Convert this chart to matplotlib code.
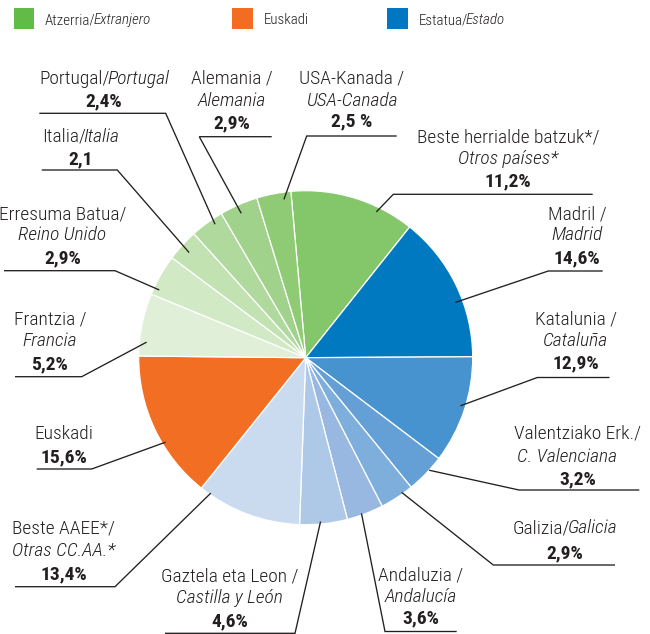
import matplotlib
matplotlib.use("Agg")
import matplotlib.pyplot as plt
from matplotlib import font_manager
from matplotlib.patches import Rectangle
import numpy as np

# ---------------- data ----------------
region_eu = ["Beste herrialde batzuk*", "Madril", "Katalunia", "Valentziako Erk.",
             "Galizia", "Andaluzia", "Gaztela eta Leon", "Beste AAEE*", "Euskadi",
             "Frantzia", "Erresuma Batua", "Italia", "Portugal", "Alemania", "USA-Kanada"]
region_es = ["Otros países*", "Madrid", "Cataluña", "C. Valenciana",
             "Galicia", "Andalucía", "Castilla y León", "Otras CC.AA.*", "",
             "Francia", "Reino Unido", "Italia", "Portugal", "Alemania", "USA-Canada"]
pct_labels = ["11,2%", "14,6%", "12,9%", "3,2%", "2,9%", "3,6%", "4,6%", "13,4%",
              "15,6%", "5,2%", "2,9%", "2,1", "2,4%", "2,9%", "2,5 %"]
# slice sizes as drawn in the reference (share of the full circle, %)
slice_share = [12.1, 14.2, 10.4, 3.8, 3.3, 3.55, 4.6, 10.15,
               14.4, 6.05, 4.0, 3.1, 3.25, 3.7, 3.3]
legend_names = [("Atzerria/", "Extranjero"), ("Euskadi", ""), ("Estatua/", "Estado")]

# ---------------- style ----------------
slice_colors = ["#84c66a", "#0079c1", "#4793cf", "#64a0d6", "#7eaedc", "#98b8e1",
                "#aec8e8", "#cbdbef", "#f26e22", "#e0efd8", "#d2e9c6", "#c2e2b2",
                "#b0d99e", "#a1d28c", "#8ecb74"]
legend_colors = ["#63bb47", "#f26c21", "#0077c0"]
TXT = "#231f20"

names = {f.name for f in font_manager.fontManager.ttflist}
base = "Roboto Condensed" if "Roboto Condensed" in names else "Liberation Sans"
FAM = [base, "DejaVu Sans"]
FS = 14
LW = 300  # light weight for the regular text

W, H = 650, 634
fig = plt.figure(figsize=(W / 100, H / 100), dpi=100)
ax = fig.add_axes([0, 0, 1, 1])

CX, CY, R = 305.7, H - 357.7, 167

wedges, _ = ax.pie(slice_share, colors=slice_colors, startangle=95.1,
                   counterclock=False, center=(CX, CY), radius=R,
                   wedgeprops=dict(edgecolor="white", linewidth=0.9))
ax.set_xlim(0, W)
ax.set_ylim(0, H)
ax.set_aspect("equal")
ax.axis("off")

# layout: text centre x, line centre ys (image px), underline y, x0, x1, elbow side,
# leader position within wedge (fraction) and radius fraction, separator / inline
layout = [
    dict(xc=508, ys=[136, 157, 180], uy=194.3, x0=393.3, x1=592.7, side="L", t=0.29, rf=0.97, sep="/"),
    dict(xc=577, ys=[213, 234, 257], uy=271, x0=548.3, x1=602.7, side="L", t=0.39, rf=0.955, sep=" /"),
    dict(xc=576, ys=[318.5, 339.5, 361.5], uy=377.5, x0=537.3, x1=609.5, side="L", t=0.53, rf=0.97, sep=" /"),
    dict(xc=578, ys=[431.7, 455, 478.3], uy=490, x0=519, x1=639.3, side="L", t=0.62, rf=1.0, sep="/", x2=567),
    dict(xc=565, ys=[526.7, 551.7], uy=565, x0=493.3, x1=615, side="L", t=0.69, rf=0.99, sep="/", inline=True),
    dict(xc=420.5, ys=[574, 596, 617.3], uy=631.5, x0=385, x1=456.7, side="L", t=0.41, rf=0.99, sep=" /"),
    dict(xc=229.5, ys=[575, 596.7, 620], uy=633.3, x0=165, x1=295, side="R", t=0.44, rf=0.985, sep=" /"),
    dict(xc=63.5, ys=[527.3, 550, 572.7], uy=586.7, x0=15, x1=115, side="R", t=0.10, rf=0.99, sep="/"),
    dict(xc=63.5, ys=[432.3, 456], uy=469, x0=36.7, x1=91.7, side="R", t=0.61, rf=0.98, sep=""),
    dict(xc=50, ys=[318.3, 339.3, 363.3], uy=376.7, x0=15, x1=81.7, side="R", t=0.77, rf=0.957, sep=" /"),
    dict(xc=62.5, ys=[212.7, 233.3, 257.3], uy=270.7, x0=4, x1=115, side="R", t=0.83, rf=0.966, sep="/"),
    dict(xc=80.7, ys=[135, 158.3], uy=170, x0=41.7, x1=117.3, side="R", t=0.53, rf=0.94, sep="/", inline=True),
    dict(xc=104, ys=[77, 100], uy=113.3, x0=39.3, x1=165.7, side="R", t=0.33, rf=0.966, sep="/", inline=True),
    dict(xc=232, ys=[77, 99, 121.7], uy=136.7, x0=199.3, x1=271.7, side="L", t=0.53, rf=0.947, sep=" /"),
    dict(xc=352, ys=[77.3, 99.3, 120], uy=136, x0=306.7, x1=396.7, side="L", t=0.23, rf=0.957, sep=" /"),
]

fig.canvas.draw()
renderer = fig.canvas.get_renderer()
BASE_OFF = 6.5  # line centre -> baseline, px
KERN = 2.5      # tighten the join between roman "/" and the italic word, px


def Y(y):
    return H - y


def put(x, y, s, ha="center", style="normal", weight=LW, size=FS):
    return ax.text(x, Y(y + BASE_OFF), s, ha=ha, va="baseline", family=FAM,
                   fontsize=size, style=style, weight=weight, color=TXT)


def put_mixed(xc, y, parts, size=FS, ha="center"):
    widths = []
    for s, st in parts:
        t = ax.text(0, 0, s, family=FAM, fontsize=size, style=st, weight=LW)
        bb = t.get_window_extent(renderer=renderer)
        widths.append(bb.width)
        t.remove()
    total = sum(widths) - KERN * (len([p for p in parts if p[0]]) - 1)
    x = xc - total / 2 if ha == "center" else xc
    for (s, st), w in zip(parts, widths):
        if not s:
            continue
        put(x, y, s, ha="left", style=st, size=size)
        x += w - KERN


for i, L in enumerate(layout):
    eu, es, pct = region_eu[i], region_es[i], pct_labels[i]
    ys = L["ys"]
    if L.get("inline"):
        put_mixed(L["xc"], ys[0], [(eu + L["sep"], "normal"), (es, "italic")])
        put(L["xc"], ys[1], pct, weight="bold")
    elif es == "":
        put(L["xc"], ys[0], eu)
        put(L["xc"], ys[1], pct, weight="bold")
    else:
        put(L["xc"], ys[0], eu + L["sep"])
        put(L.get("x2", L["xc"]), ys[1], es, style="italic")
        put(L["xc"], ys[2], pct, weight="bold")
    # leader line
    w = wedges[i]
    ang = np.deg2rad(w.theta1 + L["t"] * (w.theta2 - w.theta1))
    ex = CX + L["rf"] * R * np.cos(ang)
    ey = CY + L["rf"] * R * np.sin(ang)
    if L["side"] == "L":
        xs = [ex, L["x0"], L["x1"]]
    else:
        xs = [ex, L["x1"], L["x0"]]
    ax.plot(xs, [ey, Y(L["uy"]), Y(L["uy"])], color=TXT, lw=0.95,
            solid_capstyle="butt", solid_joinstyle="miter")

# legend
leg_x = [13.5, 232, 387]
for (a, b), c, x in zip(legend_names, legend_colors, leg_x):
    ax.add_patch(Rectangle((x, Y(28.5)), 20.5, 20.5, facecolor=c, edgecolor="none"))
    put_mixed(x + 31.5, 17.8, [(a, "normal"), (b, "italic")], size=10.8, ha="left")

fig.savefig("out.png", dpi=100)
